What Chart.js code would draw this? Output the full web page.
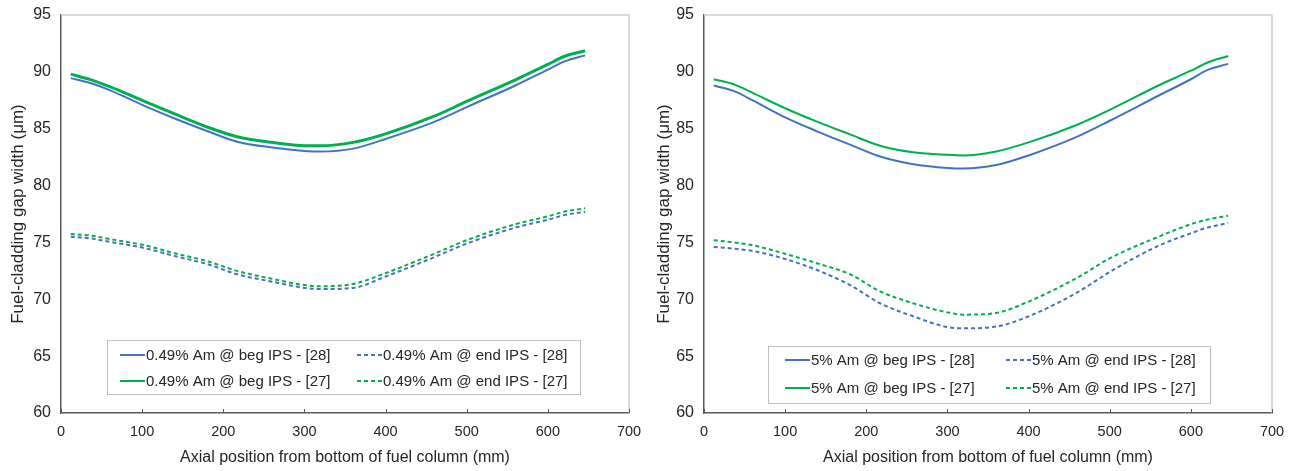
<!DOCTYPE html>
<html>
<head>
<meta charset="utf-8">
<script src="https://cdn.jsdelivr.net/npm/chart.js@4.4.0/dist/chart.umd.min.js"></script>
<style>
  body{margin:0;background:#fff;}
  .box{position:absolute;top:0;width:652px;height:471px;}
</style>
</head>
<body>
<div class="box" style="left:0"><canvas id="leftChart"></canvas></div>
<div class="box" style="left:652px"><canvas id="rightChart"></canvas></div>
<script>
// axial positions (mm)
const xPos = [12, 37, 60, 100, 140, 180, 217, 260, 300, 320, 360, 400, 460, 500, 560, 600, 620, 646];

// left panel: 0.49% Am
const am049_beg28 = [89.45, 89.0, 88.4, 87.1, 85.9, 84.8, 83.85, 83.35, 83.05, 83.0, 83.25, 84.1, 85.6, 86.9, 88.8, 90.2, 90.9, 91.45];
const am049_end28 = [75.5, 75.35, 75.05, 74.55, 73.8, 73.1, 72.2, 71.55, 71.0, 70.9, 71.0, 72.0, 73.7, 74.9, 76.3, 77.0, 77.4, 77.7];
const am049_beg27 = [89.8, 89.3, 88.7, 87.5, 86.3, 85.15, 84.3, 83.8, 83.5, 83.5, 83.8, 84.55, 86.1, 87.4, 89.3, 90.65, 91.35, 91.85];
const am049_end27 = [75.75, 75.6, 75.3, 74.8, 74.05, 73.35, 72.5, 71.8, 71.25, 71.15, 71.35, 72.3, 74.0, 75.2, 76.6, 77.3, 77.7, 78.0];

// right panel: 5% Am
const am5_beg28 = [88.8, 88.3, 87.5, 86.0, 84.75, 83.6, 82.55, 81.85, 81.55, 81.5, 81.8, 82.65, 84.3, 85.7, 87.9, 89.35, 90.15, 90.7];
const am5_end28 = [74.6, 74.45, 74.25, 73.55, 72.55, 71.25, 69.65, 68.45, 67.55, 67.45, 67.6, 68.5, 70.6, 72.4, 74.7, 75.8, 76.3, 76.7];
const am5_beg27 = [89.35, 88.9, 88.15, 86.8, 85.6, 84.5, 83.5, 82.9, 82.7, 82.65, 83.0, 83.8, 85.35, 86.65, 88.8, 90.1, 90.8, 91.4];
const am5_end27 = [75.2, 75.0, 74.75, 74.0, 73.15, 72.2, 70.7, 69.6, 68.85, 68.65, 68.8, 69.8, 71.9, 73.6, 75.5, 76.6, 77.0, 77.35];

const leftLabels = ['0.49% Am @ beg IPS - [28]', '0.49% Am @ end IPS - [28]', '0.49% Am @ beg IPS - [27]', '0.49% Am @ end IPS - [27]'];
const rightLabels = ['5% Am @ beg IPS - [28]', '5% Am @ end IPS - [28]', '5% Am @ beg IPS - [27]', '5% Am @ end IPS - [27]'];

const xTicks = [0, 100, 200, 300, 400, 500, 600, 700];
const yTicks = [60, 65, 70, 75, 80, 85, 90, 95];

const BLUE = '#4472C4', GREEN = '#00B050';
const FONT = "'Liberation Sans', Arial, sans-serif";
const TXT = '#262626';

function pts(ys){ return ys.map((y,i)=>({x:xPos[i], y:y})); }

// frame lines on top/right, inside x tick marks, legend drawn inside the plot
const framePlugin = {
  id:'frame',
  afterDraw(chart){
    const ctx = chart.ctx, a = chart.chartArea, o = chart.options.plugins.frame;
    ctx.save();
    ctx.strokeStyle = '#d0d0d0'; ctx.lineWidth = 1.5;
    ctx.beginPath();
    ctx.moveTo(a.left, a.top); ctx.lineTo(a.right, a.top); ctx.lineTo(a.right, a.bottom);
    ctx.stroke();
    // x ticks pointing inward
    ctx.strokeStyle = '#595959'; ctx.lineWidth = 1;
    const xs = chart.scales.x;
    xTicks.forEach(v=>{
      const px = Math.round(xs.getPixelForValue(v)) + 0.5;
      ctx.beginPath(); ctx.moveTo(px, a.bottom); ctx.lineTo(px, a.bottom - 4); ctx.stroke();
    });
    // legend
    const L = o.legend;
    const bx = a.left + L.x, by = a.top + L.y;
    ctx.fillStyle = '#fff'; ctx.fillRect(bx, by, L.w, L.h);
    ctx.strokeStyle = '#bfbfbf'; ctx.lineWidth = 1;
    ctx.strokeRect(bx + 0.5, by + 0.5, L.w, L.h);
    ctx.font = '15px ' + FONT; ctx.textBaseline = 'middle'; ctx.fillStyle = TXT;
    chart.data.datasets.forEach((ds,i)=>{
      const col = i % 2, row = Math.floor(i / 2);
      const lx = bx + L.cols[col], ly = by + L.rows[row];
      ctx.strokeStyle = ds.borderColor; ctx.lineWidth = 2;
      ctx.setLineDash(ds.borderDash || []);
      ctx.beginPath(); ctx.moveTo(lx, ly); ctx.lineTo(lx + 25, ly); ctx.stroke();
      ctx.setLineDash([]);
      ctx.fillText(ds.label, lx + 26, ly + 1);
    });
    ctx.restore();
  }
};

function makeChart(id, labels, series, widths, pad, legend){
  const styles = [
    {c:BLUE, dash:[]}, {c:BLUE, dash:[4,3]}, {c:GREEN, dash:[]}, {c:GREEN, dash:[4,3]}
  ];
  new Chart(document.getElementById(id), {
    type:'line',
    data:{
      datasets: series.map((s,i)=>({
        label: labels[i],
        data: pts(s),
        borderColor: styles[i].c,
        borderDash: styles[i].dash,
        borderWidth: widths[i],
        pointRadius: 0,
        fill: false,
        cubicInterpolationMode: 'monotone'
      }))
    },
    options:{
      responsive:true, maintainAspectRatio:false, animation:false,
      layout:{padding:pad},
      plugins:{legend:{display:false}, tooltip:{enabled:false}, frame:{legend:legend}},
      scales:{
        x:{
          type:'linear', min:0, max:700,
          afterBuildTicks: s => { s.ticks = xTicks.map(v=>({value:v})); },
          afterFit: s => { s.height = 58; s.paddingLeft = 0; s.paddingRight = 0; },
          grid:{display:false, drawTicks:false},
          border:{color:'#595959', width:1.5},
          ticks:{font:{family:FONT, size:14.5}, color:TXT, padding:10, maxRotation:0},
          title:{display:true, text:'Axial position from bottom of fuel column (mm)', font:{family:FONT, size:16}, color:TXT, padding:{top:2}}
        },
        y:{
          min:60, max:95,
          afterBuildTicks: s => { s.ticks = yTicks.map(v=>({value:v})); },
          afterFit: s => { s.width = pad.yw; s.paddingTop = 0; s.paddingBottom = 0; },
          grid:{display:false, drawTicks:false},
          border:{color:'#595959', width:1.5},
          ticks:{font:{family:FONT, size:16}, color:TXT, padding:10},
          title:{display:true, text:'Fuel-cladding gap width (μm)', font:{family:FONT, size:17}, color:TXT, padding:{top:2, bottom:2}}
        }
      }
    },
    plugins:[framePlugin]
  });
}

makeChart('leftChart', leftLabels, [am049_beg28, am049_end28, am049_beg27, am049_end27],
  [2, 2, 3, 2],
  {left:6, right:23, top:15, bottom:0, yw:55},
  {x:46, y:325, w:473, h:54, cols:[13, 250], rows:[15, 41]});

makeChart('rightChart', rightLabels, [am5_beg28, am5_end28, am5_beg27, am5_end27],
  [2, 2, 2, 2],
  {left:0, right:32, top:15, bottom:0, yw:52},
  {x:64, y:331, w:442, h:57, cols:[17, 238], rows:[14, 42]});
</script>
</body>
</html>
